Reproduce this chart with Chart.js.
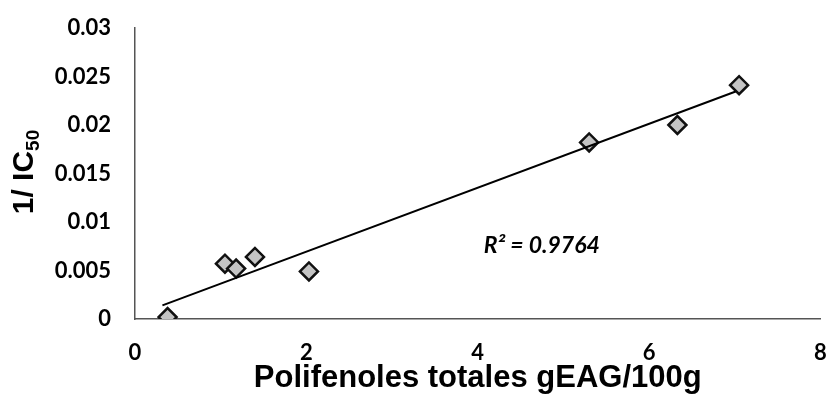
<!DOCTYPE html>
<html>
<head>
<meta charset="utf-8">
<script src="https://cdn.jsdelivr.net/npm/chart.js@4.4.1/dist/chart.umd.min.js"></script>
<style>
  html, body { margin: 0; padding: 0; background: #fff; }
  #wrap { width: 832px; height: 404px; }
</style>
</head>
<body>
<div id="wrap"><canvas id="myChart" width="832" height="404"></canvas></div>
<script>
// data
const polifenoles = [0.38, 1.05, 1.18, 1.40, 2.03, 5.30, 6.33, 7.05];
const invIC50 = [0.0002, 0.0057, 0.0052, 0.0064, 0.0049, 0.0182, 0.0200, 0.0241];

// linear trendline ends
const trendX = [0.32, 7.01];
const trendY = [0.0014, 0.02345];

const xTicks = [0, 2, 4, 6, 8];
const yTicks = [0, 0.005, 0.01, 0.015, 0.02, 0.025, 0.03];

const r2Label = "R² = 0.9764";

const points = polifenoles.map((x, i) => ({ x: x, y: invIC50[i] }));
const trend = trendX.map((x, i) => ({ x: x, y: trendY[i] }));

// y title with subscript + R² text
const extraText = {
  id: "extraText",
  afterDraw(chart) {
    const c = chart.ctx;
    const yScale = chart.scales.y;
    const xScale = chart.scales.x;

    // 1/ IC50
    c.save();
    c.translate(25, 172);
    c.rotate(-Math.PI / 2);
    c.fillStyle = "#000";
    c.textBaseline = "middle";
    c.font = "bold 30px 'Liberation Sans', Arial, sans-serif";
    const main = "1/ IC";
    const wMain = c.measureText(main).width;
    c.font = "bold 19px 'Liberation Sans', Arial, sans-serif";
    const wSub = c.measureText("50").width;
    const start = -(wMain + wSub) / 2;
    c.font = "bold 30px 'Liberation Sans', Arial, sans-serif";
    c.textAlign = "left";
    c.fillText(main, start, 0);
    c.font = "bold 19px 'Liberation Sans', Arial, sans-serif";
    c.fillText("50", start + wMain, 9);
    c.restore();

    // R² label
    c.save();
    c.fillStyle = "#000";
    c.font = "italic bold 23px Lato, sans-serif";
    c.textAlign = "left";
    c.textBaseline = "middle";
    c.fillText(r2Label, xScale.getPixelForValue(4.07), yScale.getPixelForValue(0.0076));
    c.restore();
  }
};

const ctx = document.getElementById("myChart");

new Chart(ctx, {
  type: "scatter",
  data: {
    datasets: [
      {
        label: "datos",
        data: points,
        pointStyle: "rectRot",
        pointRadius: 9,
        pointBackgroundColor: "#c4c4c4",
        pointBorderColor: "#111",
        pointBorderWidth: 2.5,
        showLine: false,
        order: 1
      },
      {
        label: "tendencia",
        data: trend,
        showLine: true,
        borderColor: "#000",
        borderWidth: 2,
        pointRadius: 0,
        fill: false,
        order: 0
      }
    ]
  },
  options: {
    responsive: false,
    animation: false,
    layout: { padding: { top: 28, right: 9, left: 0, bottom: 0 } },
    plugins: {
      legend: { display: false },
      tooltip: { enabled: false }
    },
    scales: {
      x: {
        type: "linear",
        min: 0,
        max: 8,
        afterBuildTicks: (scale) => { scale.ticks = xTicks.map(v => ({ value: v })); },
        afterFit: (scale) => {
          scale.height = 85;
          scale.paddingLeft = 0;
          scale.paddingRight = 0;
        },
        grid: { display: false, drawTicks: false },
        border: { display: true, color: "#555", width: 1.5 },
        ticks: {
          color: "#000",
          padding: 21,
          font: { family: "Lato", size: 22, weight: "bold" }
        },
        title: {
          display: true,
          text: "Polifenoles totales gEAG/100g",
          color: "#000",
          font: { family: "'Liberation Sans', Arial", size: 31, weight: "bold" },
          padding: { top: 0, bottom: 7 }
        }
      },
      y: {
        type: "linear",
        min: 0,
        max: 0.03,
        afterBuildTicks: (scale) => { scale.ticks = yTicks.map(v => ({ value: v })); },
        afterFit: (scale) => {
          scale.width = 135;
          scale.paddingTop = 0;
          scale.paddingBottom = 0;
        },
        grid: { display: false, drawTicks: false },
        border: { display: true, color: "#555", width: 1.5 },
        ticks: {
          color: "#000",
          padding: 24,
          font: { family: "Lato", size: 22, weight: "bold" },
          callback: (v) => String(+v.toFixed(3))
        }
      }
    }
  },
  plugins: [extraText]
});
</script>
</body>
</html>
